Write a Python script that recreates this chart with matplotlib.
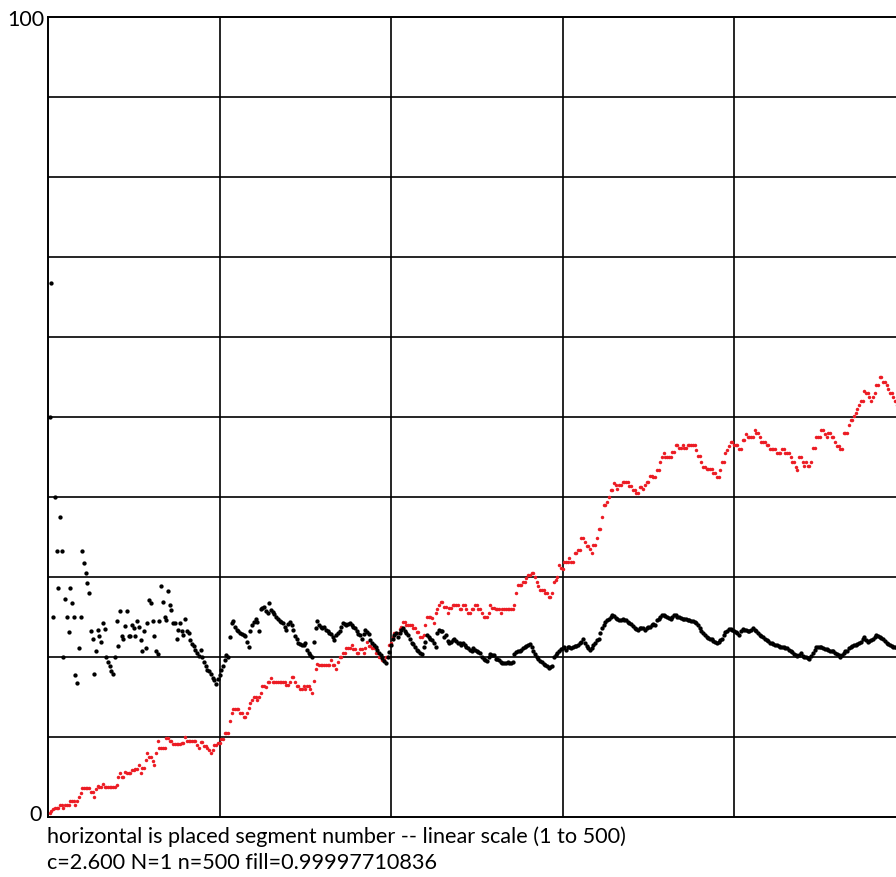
import matplotlib
matplotlib.use("Agg")
from matplotlib import pyplot as plt
import numpy as np

# black series, one value per placed segment (1..500)
black = [
    50, 66.7, 25, 40, 33.3, 28.6, 37.5, 33.3, 20, 27.3,
    25, 23.1, 28.6, 26.7, 25, 17.7, 16.7, 21.1, 25, 33.3,
    31.8, 30.5, 29.2, 28, 23.2, 22.2, 17.9, 20.7, 23.4, 22.6,
    21.9, 24.3, 23.5, 20, 19.4, 18.9, 18.3, 17.9, 20, 24.5,
    21.4, 25.7, 22.6, 22.3, 23.9, 25.7, 22.6, 22.6, 24, 23.6,
    22.6, 24.5, 23.8, 22.1, 20.7, 23.2, 21.1, 24.2, 27.1, 26.7,
    24.5, 22.6, 20.8, 20.4, 24.5, 28.9, 26.9, 25, 24.6, 28.2,
    26.5, 25.9, 24.3, 24.3, 22.3, 23.4, 24.3, 23.2, 22.7, 24.7,
    23.3, 23, 22.1, 21.6, 21.4, 20.9, 20.5, 20.1, 20.9, 20,
    19.4, 18.9, 18.4, 18.2, 17.9, 17.4, 17.1, 16.6, 17.2, 17.75,
    18.4, 18.9, 19.6, 20.25, 20, 22.5, 24.2, 24.5, 23.8, 23.4,
    23.2, 23, 22.9, 22.7, 22.6, 21.9, 21.3, 23.2, 24, 24.4,
    24.8, 24.4, 23.3, 26, 26.1, 26.3, 25.8, 25.5, 26.8, 25.9,
    25.6, 25.4, 25, 24.7, 24.5, 24.4, 24.2, 23.8, 23.4, 24.1,
    24.4, 24, 23.4, 22.6, 22.3, 21.7, 21.6, 21.5, 21.5, 21.8,
    20.9, 20.5, 20.2, 20, 21.9, 23.6, 24.5, 24, 23.8, 23.6,
    23.8, 23.4, 23.2, 23, 22.9, 22.5, 22.1, 22.75, 23, 23.2,
    23.8, 24.2, 24.1, 24, 24.1, 24.2, 24, 23.8, 23.6, 23.2,
    22.9, 22.75, 22.3, 22.9, 23.4, 23.1, 22.9, 22.1, 21.7, 21.5,
    21.3, 20.9, 20.5, 20.2, 19.9, 19.5, 19.2, 20, 20.6, 21.5,
    22.2, 22.75, 23, 22.5, 23, 23.4, 23.6, 23.2, 23, 22.75,
    22.3, 21.8, 21.6, 21.3, 20.9, 20.7, 20.5, 20.4, 21.2, 21.9,
    22.75, 22.5, 22.3, 22.1, 21.7, 21.3, 23, 23.4, 23.3, 23.2,
    22.5, 22.7, 22, 21.7, 21.9, 22.1, 22.3, 22, 21.8, 21.7,
    21.5, 21.8, 21.5, 21.3, 21.1, 20.9, 20.7, 21.1, 20.9, 20.8,
    20.6, 20.5, 20, 19.8, 19.6, 19.5, 20, 20.4, 20.3, 20.2,
    19.8, 19.7, 19.6, 19.4, 19.2, 19.2, 19.2, 19.4, 19.3, 19.2,
    19.4, 20.4, 20.6, 20.8, 20.8, 20.9, 21.1, 21.3, 21.35, 21.5,
    21.6, 21.3, 20.8, 20.4, 20, 19.7, 19.5, 19.4, 19.1, 19,
    18.9, 18.6, 18.8, 18.9, 20, 20.2, 20.5, 20.8, 21, 21.1,
    21.2, 20.9, 21.2, 21.3, 21.1, 21.3, 21.4, 21.4, 21.5, 21.7,
    21.9, 22.3, 21.8, 21.4, 21.1, 20.9, 21.1, 21.5, 21.8, 22.1,
    22.3, 23, 23.6, 24, 24.4, 24.6, 24.8, 25, 25.25, 25.1,
    24.9, 24.7, 24.6, 24.6, 24.7, 24.6, 24.6, 24.4, 24.3, 24.1,
    23.9, 23.6, 23.5, 23.4, 23.6, 23.6, 23.6, 23.4, 23.6, 23.7,
    23.8, 24, 24.1, 24, 24.6, 24.8, 25, 25.25, 25.2, 25.1,
    25, 24.9, 24.8, 25, 25.2, 25.25, 25, 25, 24.9, 24.8,
    24.7, 24.7, 24.6, 24.6, 24.5, 24.5, 24.4, 24.2, 24, 23.6,
    23.3, 23, 22.75, 22.5, 22.4, 22.3, 22.2, 22, 21.9, 21.8,
    21.9, 22.1, 22.3, 22.75, 23.1, 23.3, 23.5, 23.5, 23.4, 23.3,
    23.1, 23, 22.75, 23.2, 23.5, 23.4, 23.4, 23.3, 23.2, 23.4,
    23.6, 23.4, 23.2, 23, 22.75, 22.6, 22.5, 22.3, 22.1, 22,
    21.8, 21.7, 21.6, 21.5, 21.5, 21.4, 21.3, 21.25, 21.2, 21.15,
    21.1, 20.9, 20.8, 20.6, 20.4, 20.2, 20.1, 20.3, 20.5, 20.1,
    20, 19.95, 19.9, 19.8, 20.1, 20.5, 20.9, 21.2, 21.3, 21.3,
    21.2, 21.1, 21, 20.95, 20.9, 20.8, 20.75, 20.7, 20.5, 20.4,
    20.2, 20, 20.3, 20.5, 20.7, 20.8, 21.1, 21.3, 21.4, 21.5,
    21.55, 21.6, 21.8, 21.9, 22.3, 22.5, 22.1, 21.9, 22, 22.1,
    22.3, 22.5, 22.75, 22.6, 22.5, 22.35, 22.2, 22, 21.8, 21.65,
    21.5, 21.4, 21.3, 21.2, 21.1, 21, 21, 20.9, 20.9, 20.8,
]

# red series, one value per placed segment (1..500)
red = [
    0.5, 0.8, 1, 1.1, 1.1, 1.1, 1.5, 1.5, 1.1, 1.5,
    1.5, 1.5, 2, 2, 2, 1.5, 2, 2.5, 3, 3.6,
    3.6, 3.6, 3.6, 3.6, 3.1, 3.1, 2.5, 3.5, 3.9, 3.8,
    3.8, 4.1, 3.8, 3.8, 3.8, 3.8, 3.8, 3.8, 3.8, 4,
    5, 5.5, 5, 5, 5.6, 5.5, 5.5, 5.5, 5.9, 5.9,
    6, 6, 6.5, 5.5, 6.1, 6.1, 7.1, 8, 7.5, 7.5,
    7, 6.5, 8, 9.5, 8.6, 8.6, 8.6, 8.6, 9.9, 9.9,
    9.5, 9.5, 9.1, 9.1, 9.1, 9.1, 9.1, 9.25, 9.25, 10,
    9.5, 9.5, 9.5, 9.5, 9.5, 9.5, 9, 8.6, 9.4, 9.4,
    8.9, 8.9, 8.6, 8.4, 8, 8.4, 9, 9, 9.25, 9.25,
    9.75, 9.75, 10.5, 10.5, 10.5, 12, 13, 13.5, 13.5, 13.5,
    13.5, 13, 13, 12.5, 12.5, 13, 13.6, 14.25, 14.6, 15,
    15, 14.6, 15, 15.5, 16.4, 16.4, 16.25, 16.9, 16.9, 17.4,
    16.9, 16.9, 16.9, 16.9, 16.9, 16.9, 16.9, 16.9, 16.5, 16.5,
    16.9, 17.5, 17.5, 16.9, 16.4, 16.4, 16, 16, 16.4, 16,
    16.4, 16.4, 16, 15.5, 17, 18.5, 19.1, 19, 19, 19,
    19, 19, 19, 19, 19.6, 19, 19, 18.5, 19.4, 20,
    20, 20.5, 20.5, 21.1, 21.1, 21.1, 21.5, 21, 21, 20.5,
    20.5, 21, 21, 20.5, 21.1, 21.9, 21.4, 21.4, 21.1, 21.1,
    20.5, 20.5, 20, 20, 19.6, 19.6, 20, 20, 21.5, 21.75,
    22.5, 23, 23, 23, 23.5, 23.75, 24.4, 24.4, 24, 24,
    24, 24, 23.6, 23.6, 23.1, 23.1, 22.5, 22.5, 22.75, 24,
    25, 25, 25, 24.9, 24.25, 25.5, 26, 26.5, 26.9, 26.9,
    26.25, 26.25, 25.5, 26.1, 26.1, 26.5, 26.5, 26.5, 26.5, 26,
    26, 26.5, 26.5, 26, 25.5, 25.5, 26, 26, 26.5, 26.5,
    26, 26, 25.5, 25, 25, 25, 25.5, 26.5, 26.1, 26.1,
    26, 26, 26, 25.5, 26, 26, 26, 26, 26, 26,
    26, 26.5, 28, 29, 29, 29, 29.4, 29.4, 29.9, 30.25,
    30.25, 30.5, 30.5, 30, 29.4, 28.9, 28.4, 28.4, 28.4, 28,
    28, 27.5, 27.5, 28, 29.4, 29.6, 30, 31.5, 31.1, 31,
    31.9, 31.9, 31.9, 32.4, 31.9, 31.9, 33, 33, 33.4, 33.4,
    34.9, 34.9, 34.4, 33.9, 33.9, 33.5, 33, 34, 34, 34.9,
    36, 36, 37.5, 39, 39, 39.4, 40, 40.9, 40.9, 41.75,
    41.5, 41, 41.5, 41.5, 41.9, 41.9, 41.9, 41.9, 41.4, 41.4,
    40.9, 40.9, 40.5, 40.5, 41.25, 41.25, 41, 41.5, 41.9, 41.9,
    42.6, 42.6, 42.5, 42.5, 43.4, 43.4, 44.4, 45, 45.5, 45,
    45, 45, 45, 45.6, 45.6, 46.5, 46.5, 46.1, 46.1, 46.5,
    46.1, 46.1, 46.5, 46.5, 46.5, 46.5, 46.5, 45.9, 45.1, 45.1,
    44.4, 43.75, 43.75, 43.5, 43.5, 43.5, 43.5, 43, 43, 42.5,
    42.5, 43.4, 44.4, 44.4, 45.5, 45.9, 46.4, 46.9, 46.9, 46.5,
    46.5, 46.5, 46, 46, 47.1, 47.1, 47.9, 47.5, 47.5, 47.5,
    47.5, 48.4, 48, 48, 47.5, 46.9, 46.9, 46.9, 46.5, 46.5,
    46, 46, 46, 46, 45.5, 45.5, 45.5, 46, 46, 45.5,
    45.5, 45.5, 45, 44.4, 44.4, 43.75, 43.4, 45, 45, 44.4,
    43.9, 44.4, 43.9, 43.9, 44.4, 46.1, 46.1, 47.5, 47.5, 47.5,
    48.4, 48.4, 47.9, 47.5, 48, 48, 47.5, 47.5, 46.9, 46.4,
    46.4, 46, 46, 48, 48, 48, 49, 49.6, 49.6, 50.1,
    50.5, 51, 51.5, 52, 52, 53.25, 53, 53, 52.5, 52,
    52.5, 53, 54, 54, 55, 55, 54.4, 54.4, 54, 53.5,
    53, 53, 52.5, 52, 51.5, 51.5, 51, 51, 51.5, 51.5,
]

segments = np.arange(1, len(black) + 1)

W, H = 896, 877
fig = plt.figure(figsize=(W / 100, H / 100), dpi=100)
# plot box runs a little past the right edge of the image
ax = fig.add_axes([48 / W, 60 / H, 857.5 / W, 800 / H])
ax.set_xlim(0, 500)
ax.set_ylim(0, 100)

for xv in range(100, 500, 100):
    ax.axvline(xv, color="black", lw=1.2, zorder=1)
for yv in range(10, 100, 10):
    ax.axhline(yv, color="black", lw=1.2, zorder=1)
for sp in ax.spines.values():
    sp.set_color("black")
    sp.set_linewidth(1.4)

ax.plot(segments, red, "o", color="#ec1c24", ms=2.5, mew=0, zorder=3)
ax.plot(segments, black, "o", color="black", ms=3.1, mew=0, zorder=4)

ax.set_xticks([])
ax.set_yticks([])

font = "Lato"
fig.text(44 / W, 1 - 20 / H, "100", ha="right", va="center", fontsize=15.5, family=font)
fig.text(42 / W, 1 - 815 / H, "0", ha="right", va="center", fontsize=15.5, family=font)
fig.text(47 / W, 1 - 837 / H, "horizontal is placed segment number -- linear scale (1 to 500)",
         ha="left", va="center", fontsize=15.6, family=font)
fig.text(47 / W, 1 - 863 / H, "c=2.600 N=1 n=500 fill=0.99997710836",
         ha="left", va="center", fontsize=15.6, family=font)

fig.savefig("out.png", dpi=100)
